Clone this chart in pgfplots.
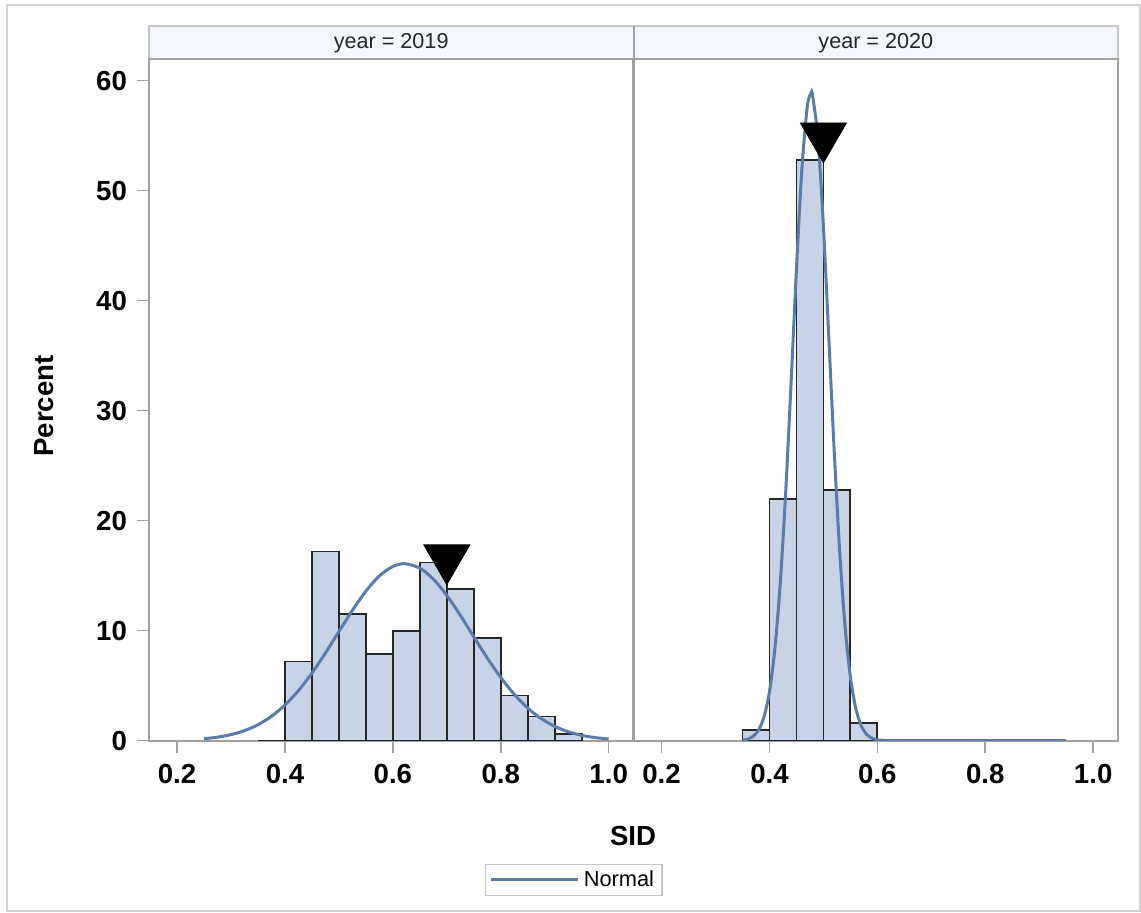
\documentclass[border=0pt]{standalone}
\usepackage{fontspec}
\setmainfont{Liberation Sans}
\usepackage{pgfplots}
\pgfplotsset{compat=1.18}
\definecolor{barfill}{HTML}{C7D3E6}
\definecolor{fitline}{HTML}{5B7CA8}
\definecolor{framegray}{HTML}{A0A0A0}
\definecolor{headfill}{HTML}{F4F7FD}
\pgfplotsset{
  panel/.style={
    scale only axis, width=242.25pt, height=340.85pt,
    xmin=0.148, xmax=1.046, ymin=0, ymax=61.97,
    xtick={0.2,0.4,0.6,0.8,1.0}, xticklabels={0.2,0.4,0.6,0.8,1.0},
    tick align=outside, xtick pos=bottom, ytick pos=left,
    major tick length=6pt,
    axis line style={draw=framegray, line width=1pt},
    tick style={draw=framegray, line width=0.8pt},
    tick label style={font=\fontsize{13.8}{16}\selectfont\bfseries},
    xticklabel style={yshift=-2pt},
    yticklabel style={xshift=-1.5pt},
    /pgf/number format/assume math mode=true,
    anchor=south west,
  }
}
\begin{document}
\begin{tikzpicture}
\useasboundingbox (0,0) rectangle (570.5pt,456.5pt);
\draw[draw=gray!35, line width=0.8pt] (3.5pt,1pt) rectangle (570pt,454pt);
\fill[headfill] (74.5pt,427pt) rectangle (559pt,443.5pt);
\draw[framegray!60, line width=0.8pt] (74.5pt,427pt) rectangle (559pt,443.5pt);
\draw[framegray, line width=1pt] (316.75pt,427pt) -- (316.75pt,443.5pt);
\node[font=\fontsize{10.8}{12}\selectfont, text=black!85] at (195.6pt,435pt) {year = 2019};
\node[font=\fontsize{10.8}{12}\selectfont, text=black!85] at (437.9pt,435pt) {year = 2020};

\begin{axis}[panel, at={(74.5pt,86.15pt)}, ytick={0,10,20,30,40,50,60},
  legend style={at={(axis description cs:0.877,-0.2043)}, anchor=center,
    draw=gray!45, line width=0.6pt, font=\fontsize{10.9}{12}\selectfont,
    inner xsep=2pt, inner ysep=1pt},
  legend image code/.code={\draw[#1] (0pt,0pt) -- (43.5pt,0pt);}]
\addplot[ybar interval, fill=barfill, draw=black!85, line width=0.9pt, forget plot] coordinates {
(0.35,0) (0.40,7.2) (0.45,17.2) (0.50,11.5) (0.55,7.85) (0.60,10.0) (0.65,16.2)
(0.70,13.8) (0.75,9.35) (0.80,4.1) (0.85,2.2) (0.90,0.6) (0.95,0)};
\addplot[fitline, line width=1.5pt, smooth] coordinates {
(0.250,0.179) (0.275,0.321) (0.300,0.553) (0.325,0.914) (0.350,1.452) (0.375,2.213)
(0.400,3.240) (0.425,4.555) (0.450,6.149) (0.475,7.969) (0.500,9.917) (0.525,11.849)
(0.550,13.594) (0.575,14.975) (0.600,15.839) (0.622,16.090) (0.650,15.685) (0.675,14.685)
(0.700,13.202) (0.725,11.395) (0.750,9.445) (0.775,7.516) (0.800,5.743) (0.825,4.213)
(0.850,2.968) (0.875,2.007) (0.900,1.303) (0.925,0.813) (0.950,0.487) (0.975,0.280)
(1.000,0.154)};
\addlegendentry{Normal}
\addplot[only marks, mark=triangle*, mark size=13.3pt, mark options={rotate=180, fill=black, draw=black}, forget plot] coordinates {(0.70,16.6)};
\end{axis}

\begin{axis}[panel, at={(316.75pt,86.15pt)}, ytick=\empty]
\addplot[ybar interval, fill=barfill, draw=black!85, line width=0.9pt] coordinates {
(0.35,1.0) (0.40,22.0) (0.45,52.8) (0.50,22.8) (0.55,1.6) (0.60,0)};
\addplot[fitline, line width=1.5pt, smooth] coordinates {
(0.35,0.053) (0.36,0.152) (0.37,0.404) (0.38,0.982) (0.39,2.186) (0.40,4.461)
(0.41,8.348) (0.42,14.316) (0.43,22.507) (0.44,32.440) (0.45,42.856) (0.46,51.897)
(0.47,57.608) (0.477,58.85) (0.48,58.620) (0.49,54.678) (0.50,46.752) (0.51,36.644)
(0.52,26.325) (0.53,17.336) (0.54,10.466) (0.55,5.792) (0.56,2.937) (0.57,1.366)
(0.58,0.582) (0.59,0.228) (0.60,0.082) (0.62,0.007) (0.65,0) (0.95,0)};
\addplot[only marks, mark=triangle*, mark size=13.3pt, mark options={rotate=180, fill=black, draw=black}] coordinates {(0.50,54.95)};
\end{axis}

\node[rotate=90, font=\fontsize{13.8}{16}\selectfont\bfseries] at (22pt,253.5pt) {Percent};
\node[font=\fontsize{13.8}{16}\selectfont\bfseries] at (316.5pt,38.5pt) {SID};
\end{tikzpicture}
\end{document}
